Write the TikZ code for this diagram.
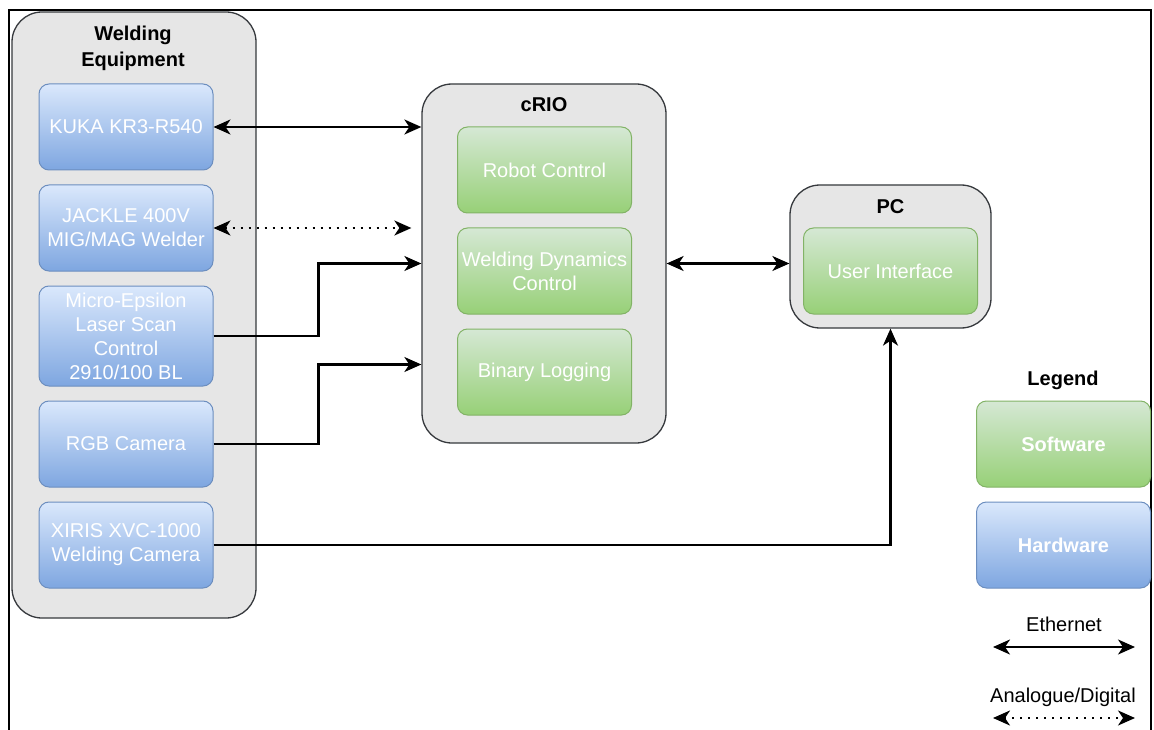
\documentclass[tikz,border=0pt]{standalone}
\usepackage{fontspec}
\setmainfont{Liberation Sans}
\usetikzlibrary{arrows.meta, positioning, calc}

\definecolor{hwtop}{HTML}{DAE8FC}
\definecolor{hwbot}{HTML}{7EA6E0}
\definecolor{hwline}{HTML}{6C8EBF}
\definecolor{swtop}{HTML}{D5E8D4}
\definecolor{swbot}{HTML}{97D077}
\definecolor{swline}{HTML}{82B366}
\definecolor{grpfill}{HTML}{E6E6E6}
\definecolor{grpline}{HTML}{36393D}

\tikzset{
  group/.style={draw=grpline, fill=grpfill, line width=1.3pt, rounded corners=30pt},
  hw/.style={draw=hwline, top color=hwtop, bottom color=hwbot, rounded corners=10pt, minimum width=174pt, minimum height=86pt, text=white, align=center, font=\fontsize{20}{24}\selectfont, line width=1pt},
  sw/.style={hw, draw=swline, top color=swtop, bottom color=swbot},
  grptitle/.style={font=\bfseries\fontsize{20}{26}\selectfont, align=center},
  link/.style={line width=2.2pt, <->},
  sig/.style={line width=2.2pt, ->},
  analog/.style={link, dash pattern=on 2pt off 6pt}
}

\begin{document}
\begin{tikzpicture}[x=1pt, y=-1pt, >={Stealth[length=17pt, width=15pt, inset=5pt]}, font=\fontsize{20}{24}\selectfont]
\useasboundingbox (0,0) rectangle (1154,730);
\draw[line width=2pt] (9,730) -- (9,10) -- (1151,10) -- (1151,730);

% groups
\node[group, minimum width=244pt, minimum height=606pt] (weld) at (134,315) {};
\node[group, minimum width=244pt, minimum height=359pt] (crio) at (544,263.5) {};
\node[group, minimum width=201pt, minimum height=143pt] (pc) at (890.5,256.5) {};
\node[grptitle] (weldtitle) at (133,48) {Welding\\Equipment};
\node[grptitle] (criotitle) at (544,105) {cRIO};
\node[grptitle] (pctitle) at (890.5,207) {PC};

% hardware
\node[hw] (kuka) at (126,127) {KUKA KR3-R540};
\node[hw] (jackle) at (126,228) {JACKLE 400V\\MIG/MAG Welder};
\node[hw, minimum height=100pt] (laser) at (126,336) {Micro-Epsilon\\Laser Scan\\Control\\2910/100 BL};
\node[hw] (rgb) at (126,444) {RGB Camera};
\node[hw] (xiris) at (126,545) {XIRIS XVC-1000\\Welding Camera};

% software
\node[sw] (robot) at (544.5,170) {Robot Control};
\node[sw] (dyn) at (544.5,271) {Welding Dynamics\\Control};
\node[sw] (log) at (544.5,372) {Binary Logging};
\node[sw] (ui) at (890.5,271) {User Interface};

% links
\draw[link] (kuka.east) -- (kuka.east -| crio.west);
\draw[analog, shorten >=10pt] (jackle.east) -- (jackle.east -| crio.west);
\draw[sig] (laser.east) -- ++(105,0) |- (crio.west);
\draw[sig] (rgb.east) -- ++(105,0) |- ($(crio.west)+(0,101)$);
\draw[sig] (xiris.east) -| (pc.south);
\draw[link] (crio.east) -- (crio.east -| pc.west);

% legend
\node[grptitle] (legend) at (1063,380) {Legend};
\node[sw, font=\bfseries\fontsize{20}{24}\selectfont] (software) at (1063.5,444) {Software};
\node[hw, font=\bfseries\fontsize{20}{24}\selectfont] (hardware) at (1063.5,545) {Hardware};
\node (eth) at (1064,624) {Ethernet};
\coordinate (ethl) at (993,647);
\coordinate (ethr) at (1135,647);
\draw[link] (ethl) -- (ethr);
\node (ana) at (1063,697) {Analogue/Digital};
\coordinate (anal) at (993,718);
\coordinate (anar) at (1135,718);
\draw[analog] (anal) -- (anar);
\end{tikzpicture}
\end{document}
